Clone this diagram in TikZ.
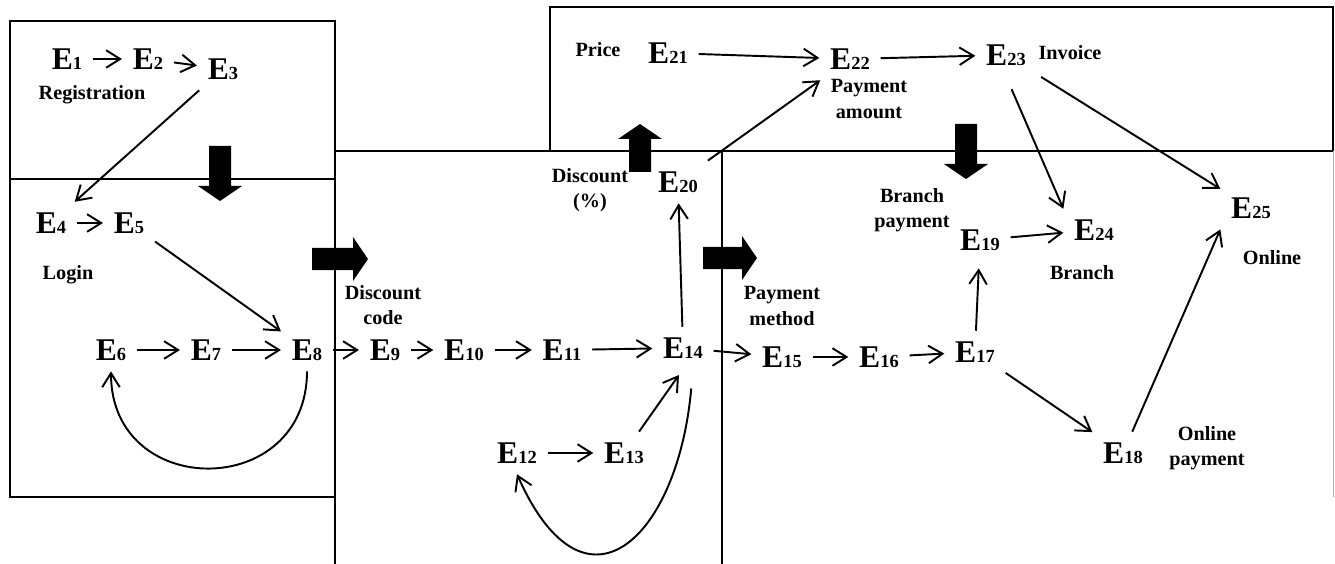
\documentclass[tikz,border=0pt]{standalone}
\usepackage{fontspec}
\setmainfont{Liberation Serif}
\usetikzlibrary{arrows.meta}

% event label: big E with a small number
\newcommand{\evt}[1]{{\fontsize{18}{18}\selectfont E}{\fontsize{10.5}{10.5}\selectfont #1}}
% thick block arrow: tip, angle, length
\newcommand{\bigarrow}[3]{\fill[shift={#1},rotate=#2] (0,0) -- (-15,-22) -- (-15,-11) -- (-#3,-11) -- (-#3,11) -- (-15,11) -- (-15,22) -- cycle;}

\begin{document}
\begin{tikzpicture}[
  x=0.02cm, y=-0.02cm,
  >={Straight Barb[length=8pt,width=10pt]},
  ev/.style={font=\bfseries,inner sep=6pt},
  lbl/.style={font=\bfseries\fontsize{11.5}{14.5}\selectfont,align=center,inner sep=0pt},
  flow/.style={->,line width=1.1pt},
  frame/.style={line width=1pt}
]
  \useasboundingbox (0,0) rectangle (1335,564);

  % frames
  \draw[frame] (10,21) rectangle (335,497);
  \draw[frame] (10,179) -- (335,179);
  \draw[frame] (335,151) -- (1333,151);
  \draw[frame] (550,151) |- (1333,7) -- (1333,151);
  \draw[frame] (335,497) -- (335,564);
  \draw[frame] (722,151) -- (722,564);
  \draw[gray!60,thin] (1333,151) -- (1333,497);

  % block arrows
  \bigarrow{(220,201)}{-90}{55}
  \bigarrow{(368,259)}{0}{56}
  \bigarrow{(640,124)}{90}{48}
  \bigarrow{(757,258)}{0}{54}
  \bigarrow{(966,179)}{-90}{55}

  % registration and login
  \node[ev] (e1) at (67,59) {\evt{1}};
  \node[ev] (e2) at (148,59) {\evt{2}};
  \node[ev] (e3) at (223,69) {\evt{3}};
  \node[lbl] (reg) at (92,95) {Registration};
  \node[ev] (e4) at (51,223) {\evt{4}};
  \node[ev] (e5) at (129,223) {\evt{5}};
  \node[lbl] (login) at (68,275) {Login};
  \node[ev] (e6) at (111,350) {\evt{6}};
  \node[ev] (e7) at (206,350) {\evt{7}};
  \node[ev] (e8) at (307,350) {\evt{8}};

  % discount
  \node[lbl] (dcode) at (383,305) {Discount\\code};
  \node[ev] (e9) at (385,350) {\evt{9}};
  \node[ev] (e10) at (464,350) {\evt{10}};
  \node[ev] (e11) at (562,350) {\evt{11}};
  \node[ev] (e14) at (683,348) {\evt{14}};
  \node[ev] (e12) at (517,453) {\evt{12}};
  \node[ev] (e13) at (624,453) {\evt{13}};
  \node[ev] (e20) at (678,182) {\evt{20}};
  \node[lbl] (dpct) at (590,190) {Discount\\(\%)};

  % price and invoice
  \node[lbl] (price) at (598,50) {Price};
  \node[ev] (e21) at (668,53) {\evt{21}};
  \node[ev] (e22) at (850,59) {\evt{22}};
  \node[lbl] (payamt) at (869,99) {Payment\\amount};
  \node[ev] (e23) at (1006,55) {\evt{23}};
  \node[lbl] (invoice) at (1070,53) {Invoice};

  % payment
  \node[lbl] (paymeth) at (782,306) {Payment\\method};
  \node[ev] (e15) at (782,357) {\evt{15}};
  \node[ev] (e16) at (879,357) {\evt{16}};
  \node[ev] (e17) at (975,352) {\evt{17}};
  \node[ev] (e19) at (980,240) {\evt{19}};
  \node[lbl] (brpay) at (912,210) {Branch\\payment};
  \node[ev] (e24) at (1094,230) {\evt{24}};
  \node[lbl] (branch) at (1082,273) {Branch};
  \node[ev] (e25) at (1251,208) {\evt{25}};
  \node[lbl] (online) at (1272,258) {Online};
  \node[ev] (e18) at (1123,453) {\evt{18}};
  \node[lbl] (onpay) at (1207,448) {Online\\payment};

  % connectors
  \draw[flow] (e1) -- (e2);
  \draw[flow] (e2) -- (e3);
  \draw[flow] (e3) -- (e4);
  \draw[flow] (e4) -- (e5);
  \draw[flow] (e5) -- (e8);
  \draw[flow] (e6) -- (e7);
  \draw[flow] (e7) -- (e8);
  \draw[flow] (e8.south) to[out=-90,in=-90,looseness=1.69] (e6.south);
  \draw[flow] (e8) -- (e9);
  \draw[flow] (e9) -- (e10);
  \draw[flow] (e10) -- (e11);
  \draw[flow] (e11) -- (e14);
  \draw[flow] (e12) -- (e13);
  \draw[flow,shorten >=4pt] (e13) -- (e14.south);
  \draw[flow,shorten <=11pt] (e14.-65) to[out=-95,in=-66,looseness=2.1] (e12.south);
  \draw[flow] (e14) -- (e20);
  \draw[flow] (e20) -- (e22);
  \draw[flow] (e21) -- (e22);
  \draw[flow] (e22) -- (e23);
  \draw[flow,shorten <=8pt] (e23.south) -- (e24.north west);
  \draw[flow,shorten <=3pt] (e23) -- (e25);
  \draw[flow] (e14) -- (e15);
  \draw[flow] (e15) -- (e16);
  \draw[flow] (e16) -- (e17);
  \draw[flow,shorten >=4pt] (e17) -- (e19);
  \draw[flow] (e19) -- (e24);
  \draw[flow] (e17) -- (e18);
  \draw[flow] (e18) -- (e25.south west);
\end{tikzpicture}
\end{document}
